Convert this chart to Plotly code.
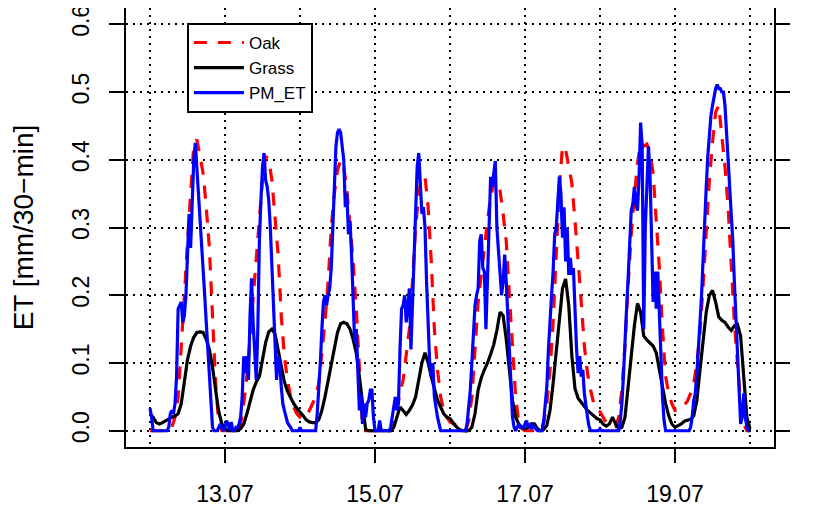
import pandas as pd
import plotly.graph_objects as go

# ---------------- data ----------------
start = "2010-07-12 00:00"

# Oak ET, hourly values, 12.07 00:00 ... 20.07 00:00
oak_d12 = [0, 0, 0, 0, 0, 0, 0, 0.005, 0.02, 0.05, 0.12, 0.2, 0.28, 0.35, 0.42, 0.43, 0.405, 0.38, 0.33, 0.27, 0.17, 0.07, 0.01, 0.0]
oak_d13 = [0, 0, 0, 0, 0, 0.01, 0.04, 0.08, 0.14, 0.2, 0.25, 0.32, 0.37, 0.405, 0.4, 0.37, 0.32, 0.26, 0.17, 0.11, 0.075, 0.05, 0.035, 0.025]
oak_d14 = [0.02, 0.018, 0.02, 0.03, 0.04, 0.05, 0.07, 0.11, 0.16, 0.22, 0.3, 0.35, 0.385, 0.4, 0.39, 0.355, 0.305, 0.25, 0.18, 0.09, 0.005, 0, 0, 0]
oak_d15 = [0, 0, 0, 0, 0, 0, 0.01, 0.035, 0.055, 0.075, 0.11, 0.15, 0.22, 0.3, 0.35, 0.375, 0.375, 0.33, 0.25, 0.15, 0.09, 0.05, 0.03, 0.02]
oak_d16 = [0.013, 0.01, 0.008, 0.006, 0.003, 0, 0.015, 0.05, 0.12, 0.19, 0.23, 0.275, 0.31, 0.345, 0.365, 0.37, 0.355, 0.32, 0.28, 0.2, 0.12, 0.05, 0.012, 0.003]
oak_d17 = [0, 0, 0, 0, 0, 0, 0.012, 0.04, 0.09, 0.16, 0.26, 0.36, 0.42, 0.415, 0.39, 0.365, 0.31, 0.255, 0.19, 0.125, 0.085, 0.06, 0.04, 0.03]
oak_d18 = [0.028, 0.02, 0.012, 0.008, 0.005, 0.006, 0.02, 0.06, 0.125, 0.215, 0.29, 0.345, 0.395, 0.425, 0.42, 0.423, 0.41, 0.38, 0.31, 0.24, 0.15, 0.08, 0.055, 0.04]
oak_d19 = [0.03, 0.03, 0.032, 0.038, 0.044, 0.055, 0.07, 0.1, 0.145, 0.215, 0.3, 0.37, 0.425, 0.47, 0.48, 0.435, 0.39, 0.33, 0.245, 0.16, 0.1, 0.04, 0.01, 0.0]
oak_end = [0.0]

# Grass ET, hourly values
grass_d12 = [0.025, 0.02, 0.012, 0.01, 0.012, 0.015, 0.017, 0.02, 0.022, 0.025, 0.04, 0.07, 0.105, 0.125, 0.138, 0.145, 0.146, 0.145, 0.135, 0.12, 0.094, 0.06, 0.028, 0.01]
grass_d13 = [0.003, 0, 0, 0, 0, 0.003, 0.01, 0.025, 0.045, 0.06, 0.072, 0.08, 0.105, 0.13, 0.146, 0.15, 0.143, 0.118, 0.095, 0.072, 0.058, 0.048, 0.04, 0.033]
grass_d14 = [0.028, 0.022, 0.016, 0.013, 0.012, 0.012, 0.016, 0.03, 0.05, 0.075, 0.1, 0.12, 0.145, 0.158, 0.16, 0.158, 0.15, 0.135, 0.115, 0.08, 0.04, 0.002, 0, 0]
grass_d15 = [0, 0, 0, 0, 0, 0, 0.005, 0.02, 0.035, 0.03, 0.024, 0.03, 0.038, 0.05, 0.075, 0.1, 0.115, 0.1, 0.08, 0.06, 0.045, 0.035, 0.025, 0.02]
grass_d16 = [0.018, 0.012, 0.006, 0.002, 0, 0, 0, 0.005, 0.025, 0.06, 0.078, 0.09, 0.1, 0.113, 0.127, 0.148, 0.175, 0.17, 0.135, 0.09, 0.045, 0.02, 0.01, 0.005]
grass_d17 = [0.003, 0.005, 0.01, 0.01, 0.003, 0, 0.002, 0.008, 0.03, 0.07, 0.115, 0.165, 0.21, 0.224, 0.185, 0.11, 0.062, 0.048, 0.042, 0.035, 0.03, 0.026, 0.022, 0.018]
grass_d18 = [0.016, 0.01, 0.007, 0.01, 0.02, 0.01, 0.003, 0.005, 0.02, 0.06, 0.11, 0.155, 0.188, 0.175, 0.14, 0.134, 0.13, 0.125, 0.115, 0.09, 0.06, 0.04, 0.022, 0.01]
grass_d19 = [0.005, 0.007, 0.01, 0.014, 0.015, 0.017, 0.022, 0.045, 0.09, 0.135, 0.175, 0.2, 0.207, 0.19, 0.168, 0.163, 0.16, 0.153, 0.148, 0.155, 0.157, 0.14, 0.08, 0.02]
grass_end = [0.003]

# PM_ET, 30-min values
pm_d12 = [0.033, 0.02, 0, 0, 0, 0, 0, 0, 0, 0, 0, 0, 0.005, 0.025, 0.03, 0.025, 0.04, 0.08, 0.18, 0.185,
          0.19, 0.16, 0.17, 0.2, 0.26, 0.32, 0.27, 0.35, 0.4, 0.425, 0.39, 0.35, 0.32, 0.28, 0.24, 0.2,
          0.16, 0.12, 0.07, 0.03, 0.005, 0, 0, 0, 0.005, 0.01, 0.005, 0]
pm_d13 = [0.005, 0.015, 0.01, 0, 0.013, 0, 0, 0.005, 0.005, 0.01, 0.02, 0.05, 0.11, 0.085, 0.11, 0.075,
          0.17, 0.225, 0.16, 0.12, 0.075, 0.15, 0.28, 0.34, 0.39, 0.41, 0.37, 0.36, 0.34, 0.3, 0.25, 0.19,
          0.14, 0.075, 0.11, 0.1, 0.065, 0.04, 0.03, 0.018, 0.012, 0.008, 0.005, 0, 0, 0, 0, 0]
pm_d14 = [0.005, 0, 0, 0, 0, 0, 0, 0, 0, 0, 0, 0.025, 0.06, 0.1, 0.15, 0.19, 0.2, 0.185, 0.2, 0.21,
          0.24, 0.31, 0.38, 0.42, 0.44, 0.445, 0.44, 0.42, 0.4, 0.33, 0.35, 0.29, 0.31, 0.26, 0.2, 0.13,
          0.15, 0.075, 0.03, 0.055, 0.01, 0.04, 0.02, 0.04, 0.045, 0.06, 0.06, 0.02]
pm_d15 = [0, 0, 0, 0.015, 0, 0, 0, 0, 0, 0, 0.005, 0.02, 0.03, 0.05, 0.03, 0.04, 0.12, 0.18, 0.185, 0.2,
          0.16, 0.19, 0.21, 0.12, 0.19, 0.27, 0.34, 0.39, 0.41, 0.37, 0.32, 0.33, 0.3, 0.22, 0.17, 0.1,
          0.08, 0.1, 0.05, 0.03, 0.02, 0.01, 0, 0, 0, 0, 0, 0]
pm_d16 = [0, 0, 0, 0, 0, 0, 0, 0, 0, 0, 0, 0.012, 0.035, 0.06, 0.1, 0.14, 0.185, 0.2, 0.21, 0.28,
          0.29, 0.24, 0.235, 0.15, 0.25, 0.3, 0.375, 0.36, 0.38, 0.398, 0.3, 0.26, 0.23, 0.2, 0.22, 0.26,
          0.22, 0.165, 0.12, 0.065, 0.02, 0.005, 0, 0.005, 0.01, 0.005, 0.005, 0.005]
pm_d17 = [0.01, 0.015, 0.005, 0.008, 0.003, 0.008, 0.005, 0.002, 0, 0, 0, 0, 0.015, 0.035, 0.065, 0.12,
          0.17, 0.2, 0.235, 0.29, 0.3, 0.33, 0.375, 0.35, 0.285, 0.33, 0.25, 0.3, 0.23, 0.255, 0.23, 0.24,
          0.17, 0.12, 0.085, 0.11, 0.08, 0.09, 0.055, 0.035, 0.02, 0.006, 0, 0, 0, 0, 0, 0]
pm_d18 = [0.003, 0, 0, 0, 0, 0, 0, 0, 0, 0, 0, 0, 0, 0.015, 0.04, 0.08, 0.14, 0.18, 0.225, 0.27,
          0.325, 0.335, 0.36, 0.335, 0.325, 0.375, 0.455, 0.42, 0.15, 0.3, 0.38, 0.42, 0.38, 0.3, 0.19, 0.235,
          0.18, 0.235, 0.17, 0.1, 0.05, 0.015, 0, 0, 0, 0, 0, 0]
pm_d19 = [0, 0, 0, 0, 0, 0, 0, 0, 0, 0, 0.005, 0.02, 0.045, 0.055, 0.085, 0.115, 0.16, 0.2, 0.26, 0.31,
          0.36, 0.405, 0.44, 0.465, 0.48, 0.495, 0.505, 0.511, 0.505, 0.505, 0.5, 0.5, 0.48, 0.44, 0.4, 0.37,
          0.33, 0.28, 0.22, 0.16, 0.1, 0.04, 0.01, 0.02, 0.055, 0.02, 0.005, 0]
pm_end = [0.0]

y_ticks = [0.0, 0.1, 0.2, 0.3, 0.4, 0.5, 0.6]
x_tick_dates = ["2010-07-13", "2010-07-15", "2010-07-17", "2010-07-19"]
series_names = ["Oak", "Grass", "PM_ET"]
y_title = "ET [mm/30\u2212min]"

# ---------------- assemble ----------------
oak = oak_d12 + oak_d13 + oak_d14 + oak_d15 + oak_d16 + oak_d17 + oak_d18 + oak_d19 + oak_end
grass = grass_d12 + grass_d13 + grass_d14 + grass_d15 + grass_d16 + grass_d17 + grass_d18 + grass_d19 + grass_end
pm = pm_d12 + pm_d13 + pm_d14 + pm_d15 + pm_d16 + pm_d17 + pm_d18 + pm_d19 + pm_end

t_hour = pd.date_range(start, periods=len(oak), freq="h")
t_half = pd.date_range(start, periods=len(pm), freq="30min")

FONT = "Liberation Sans, Arial, Helvetica, sans-serif"

fig = go.Figure()
fig.add_trace(go.Scatter(x=t_hour, y=oak, name=series_names[0], mode="lines",
                         line=dict(color="#FF0000", width=3.2, dash="13px,11px")))
fig.add_trace(go.Scatter(x=t_hour, y=grass, name=series_names[1], mode="lines",
                         line=dict(color="#000000", width=3.2)))
fig.add_trace(go.Scatter(x=t_half, y=pm, name=series_names[2], mode="lines",
                         line=dict(color="#0000FF", width=3.2)))
fig.add_trace(go.Scatter(x=[], y=[], yaxis="y2", showlegend=False, hoverinfo="skip"))

grid = dict(showgrid=True, gridcolor="black", gridwidth=1.6, griddash="2px,5px")
yr = [-0.024, 0.624]

# the page body adds an 8px offset, so the figure is 8px smaller than the window
fig.update_layout(
    width=821, height=498,
    margin=dict(l=118, r=55, t=0, b=59, autoexpand=False),
    paper_bgcolor="white", plot_bgcolor="white",
    font=dict(family=FONT, size=23, color="black"),
    showlegend=True,
    legend=dict(x=0.094, y=0.966, xanchor="left", yanchor="top",
                bordercolor="black", borderwidth=2, bgcolor="white",
                font=dict(size=17), itemwidth=50, tracegroupgap=0),
    xaxis=dict(type="date",
               range=["2010-07-11 16:19", "2010-07-20 07:41"],
               tickvals=x_tick_dates, tickformat="%d.%m",
               ticks="outside", ticklen=14, tickwidth=1.5, tickcolor="black",
               showline=True, mirror=True, linecolor="black", linewidth=2,
               zeroline=False, ticklabelstandoff=11, automargin=False,
               ticklabeloverflow="allow",
               minor=dict(tick0="2010-07-12", dtick=86400000, showgrid=True,
                          gridcolor="black", gridwidth=1.6, griddash="2px,5px", ticks=""),
               **grid),
    yaxis=dict(range=yr, tickvals=y_ticks, tickformat=".1f", tickangle=-90,
               ticks="outside", ticklen=15, tickwidth=1.5, tickcolor="black",
               showline=True, mirror=True, linecolor="black", linewidth=2,
               zeroline=False, ticklabelstandoff=11, automargin=False,
               ticklabeloverflow="allow",
               title=dict(text=y_title, standoff=46),
               **grid),
    yaxis2=dict(range=yr, overlaying="y", side="right", tickvals=y_ticks, tickformat=".1f",
                tickangle=-90, ticks="outside", ticklen=15, tickwidth=1.5, tickcolor="black",
                showline=False, showgrid=False, zeroline=False, ticklabelstandoff=21,
                automargin=False, ticklabeloverflow="allow"),
)

fig.write_html("out.html")
